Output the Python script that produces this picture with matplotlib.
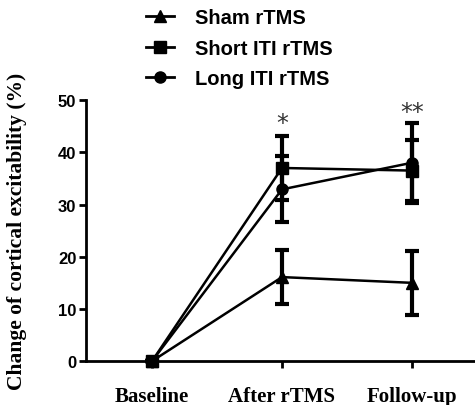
import matplotlib
matplotlib.use("Agg")
import matplotlib.pyplot as plt
from matplotlib.lines import Line2D

categories = ["Baseline", "After rTMS", "Follow-up"]
series_names = ["Sham rTMS", "Short ITI rTMS", "Long ITI rTMS"]
sham_mean = [0, 16.1, 15.0]
sham_err = [0, 5.2, 6.1]
short_mean = [0, 37.0, 36.5]
short_err = [0, 6.2, 5.8]
long_mean = [0, 32.9, 38.0]
long_err = [0, 6.3, 7.7]
markers = ["^", "s", "o"]
sig_labels = ["", "*", "**"]
sig_y = [0, 45.7, 47.8]
yticks = [0, 10, 20, 30, 40, 50]

fig = plt.figure(figsize=(4.75, 4.06), dpi=100)
ax = fig.add_axes([0.181, 0.108, 0.819, 0.643])

x = list(range(len(categories)))
means = [sham_mean, short_mean, long_mean]
errs = [sham_err, short_err, long_err]
for m, e, mk in zip(means, errs, markers):
    ax.errorbar(x, m, yerr=e, color="black", lw=1.8, marker=mk, ms=8,
                capsize=5, capthick=3, elinewidth=3, clip_on=False, zorder=3)

for xi, lab, yy in zip(x, sig_labels, sig_y):
    if lab:
        ax.text(xi, yy, lab, ha="center", va="center", fontsize=17,
                family="DejaVu Sans", color="#333333")

ax.set_xlim(-0.508, 2.485)
ax.set_ylim(0, 50)
ax.set_yticks(yticks)
ax.set_yticklabels([str(t) for t in yticks], family="Liberation Sans",
                   fontweight="bold", fontsize=12)
ax.set_xticks(x)
ax.set_xticklabels(categories, family="Liberation Serif", fontweight="bold",
                   fontsize=15)
ax.tick_params(axis="both", direction="out", length=5, width=2)
ax.tick_params(axis="x", pad=13)
ax.tick_params(axis="y", pad=2)
for s in ["top", "right"]:
    ax.spines[s].set_visible(False)
for s in ["left", "bottom"]:
    ax.spines[s].set_linewidth(2)
ax.set_ylabel("Change of cortical excitability (%)", family="Liberation Serif",
              fontweight="bold", fontsize=15.5)
ax.yaxis.set_label_coords(-0.152, 0.5)

handles = [Line2D([0], [0], color="black", lw=2, marker=mk, ms=8) for mk in markers]
leg = fig.legend(handles, series_names, loc="upper left",
                 bbox_to_anchor=(0.27, 1.022), frameon=False,
                 prop={"family": "Liberation Sans", "weight": "bold", "size": 14.5},
                 handlelength=1.39, labelspacing=0.57, handletextpad=1.0)
fig.savefig("out.png", dpi=100)
